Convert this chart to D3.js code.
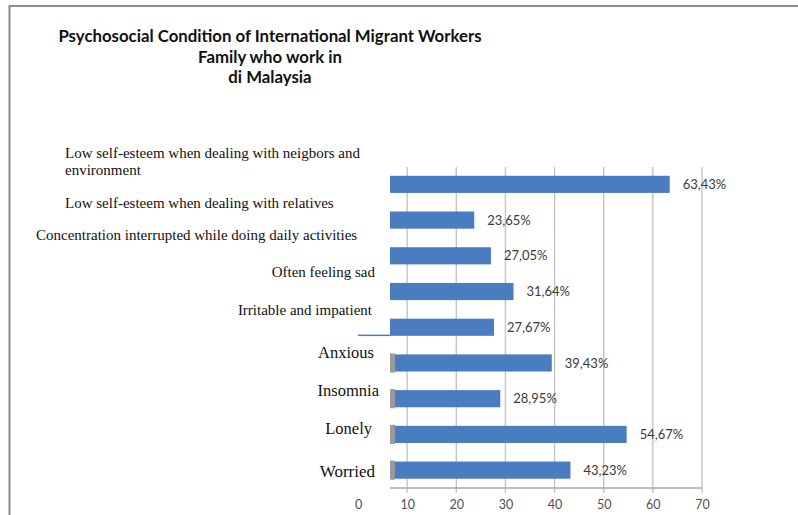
<!DOCTYPE html>
<html>
<head>
<meta charset="utf-8">
<script src="https://cdn.jsdelivr.net/npm/d3@7"></script>
<style>
  html, body { margin: 0; padding: 0; background: #fff; }
  svg { display: block; }
</style>
</head>
<body>
<svg id="chart" width="798" height="515"></svg>
<script>
// Survey results: share of respondents reporting each condition (%)
const categories = [
  "Low self-esteem when dealing with neigbors and environment",
  "Low self-esteem when dealing with relatives",
  "Concentration interrupted while doing daily activities",
  "Often feeling sad",
  "Irritable and impatient",
  "Anxious",
  "Insomnia",
  "Lonely",
  "Worried"
];
const values = [63.43, 23.65, 27.05, 31.64, 27.67, 39.43, 28.95, 54.67, 43.23];
const xTicks = [0, 10, 20, 30, 40, 50, 60, 70];
const titleLines = [
  "Psychosocial Condition of International Migrant Workers",
  "Family who work in",
  "di Malaysia"
];

const svg = d3.select("#chart");

// outer frame (top and left edges)
svg.append("path")
  .attr("d", "M9.5,515 V6 H798")
  .attr("fill", "none")
  .attr("stroke", "#8c8c8c")
  .attr("stroke-width", 2);

// title
const title = svg.append("text")
  .attr("x", 270)
  .attr("y", 42)
  .attr("text-anchor", "middle")
  .style("font-family", "Lato, 'Open Sans', sans-serif")
  .style("font-weight", "700")
  .style("font-size", "16.8px")
  .attr("fill", "#111");
titleLines.forEach((t, i) => {
  title.append("tspan").attr("x", 270).attr("dy", i === 0 ? 0 : 20.5).text(t);
});

// scales
const x = d3.scaleLinear().domain([0, 70]).range([358, 702]);
const y = d3.scaleBand().domain(categories).range([166.5, 488])
  .paddingInner(0.52).paddingOuter(0.26);

const plotLeft = 390, plotTop = 167, plotBottom = 488;

// vertical gridlines
svg.append("g")
  .selectAll("line")
  .data(xTicks.filter(d => x(d) > plotLeft))
  .join("line")
  .attr("x1", d => x(d)).attr("x2", d => x(d))
  .attr("y1", plotTop).attr("y2", plotBottom + 5)
  .attr("stroke", "#c4c4c4")
  .attr("stroke-width", 1.4);

// bottom axis line
svg.append("line")
  .attr("x1", plotLeft).attr("x2", x(70))
  .attr("y1", plotBottom).attr("y2", plotBottom)
  .attr("stroke", "#a8a8a8").attr("stroke-width", 1.4);

// axis tick labels
const xAxis = d3.axisBottom(x).tickValues(xTicks).tickSize(0).tickPadding(12);
const gx = svg.append("g").attr("transform", `translate(0,${plotBottom})`).call(xAxis);
gx.select(".domain").remove();
gx.selectAll("text")
  .style("font-family", "Lato, 'Open Sans', sans-serif")
  .style("font-size", "12.5px")
  .attr("fill", "#505050");

// plot area clip
svg.append("defs").append("clipPath").attr("id", "plotClip")
  .append("rect")
  .attr("x", plotLeft).attr("y", plotTop)
  .attr("width", x(70) - plotLeft).attr("height", plotBottom - plotTop);

const barColor = "#4a7dbf";

// bars
svg.append("g")
  .attr("clip-path", "url(#plotClip)")
  .selectAll("rect")
  .data(categories)
  .join("rect")
  .attr("x", x(0))
  .attr("y", d => y(d))
  .attr("width", (d, i) => x(values[i]) - x(0))
  .attr("height", y.bandwidth())
  .attr("fill", barColor);

// grey stubs at the clipped start of the lower bars
svg.append("g")
  .selectAll("rect")
  .data(categories.slice(5))
  .join("rect")
  .attr("x", plotLeft)
  .attr("y", d => y(d) - 1)
  .attr("width", 5)
  .attr("height", y.bandwidth() + 2)
  .attr("fill", "#9a9a9a");

// sliver of the "Irritable" bar running out to the zero line
svg.append("line")
  .attr("x1", x(0)).attr("x2", plotLeft)
  .attr("y1", y(categories[4]) + y.bandwidth() - 0.5)
  .attr("y2", y(categories[4]) + y.bandwidth() - 0.5)
  .attr("stroke", barColor).attr("stroke-width", 1.5);

// value labels
const fmt = v => v.toFixed(2).replace(".", ",") + "%";
svg.append("g")
  .selectAll("text")
  .data(categories)
  .join("text")
  .attr("x", (d, i) => x(values[i]) + 13)
  .attr("y", d => y(d) + y.bandwidth() / 2)
  .attr("dy", "0.35em")
  .style("font-family", "Lato, 'Open Sans', sans-serif")
  .style("font-size", "13px")
  .attr("fill", "#3a3a3a")
  .text((d, i) => fmt(values[i]));

// category label placement: anchor, x, baseline offset from bar centre, font size, wrap width
const labelLayout = [
  { anchor: "start", x: 65,  dy: -26.5, size: 15,   wrap: 320 },
  { anchor: "start", x: 65,  dy: -12.5, size: 15 },
  { anchor: "start", x: 36,  dy: -16,   size: 15 },
  { anchor: "end",   x: 375, dy: -15,   size: 15 },
  { anchor: "end",   x: 372, dy: -12.5, size: 15 },
  { anchor: "end",   x: 374, dy: -5,    size: 16.5 },
  { anchor: "end",   x: 379, dy: -2.5,  size: 16.5 },
  { anchor: "end",   x: 372, dy: 0,     size: 16.5 },
  { anchor: "end",   x: 375, dy: 6.5,   size: 17 }
];

const catG = svg.append("g")
  .style("font-family", "'Liberation Serif', 'Times New Roman', serif")
  .attr("fill", "#111");

categories.forEach((c, i) => {
  const L = labelLayout[i];
  const cy = y(c) + y.bandwidth() / 2;
  const t = catG.append("text")
    .attr("x", L.x)
    .attr("y", cy + L.dy)
    .attr("text-anchor", L.anchor)
    .style("font-size", L.size + "px");
  if (L.wrap) {
    const words = c.split(" ");
    let line = [];
    let tspan = t.append("tspan").attr("x", L.x).attr("dy", 0);
    words.forEach(w => {
      line.push(w);
      tspan.text(line.join(" "));
      if (tspan.node().getComputedTextLength() > L.wrap && line.length > 1) {
        line.pop();
        tspan.text(line.join(" "));
        line = [w];
        tspan = t.append("tspan").attr("x", L.x).attr("dy", 17).text(w);
      }
    });
  } else {
    t.text(c);
  }
});
</script>
</body>
</html>
